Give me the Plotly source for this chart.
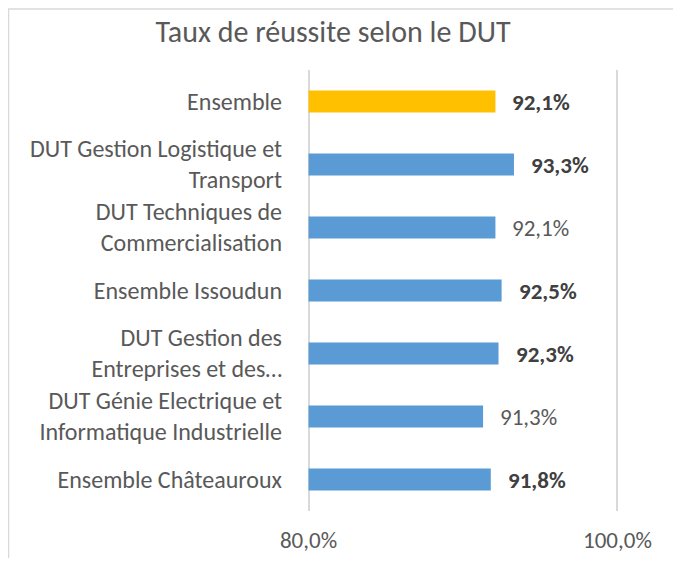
import plotly.graph_objects as go

categories = [
    "Ensemble",
    "DUT Gestion Logistique et<br>Transport",
    "DUT Techniques de<br>Commercialisation",
    "Ensemble Issoudun",
    "DUT Gestion des<br>Entreprises et des…",
    "DUT Génie Electrique et<br>Informatique Industrielle",
    "Ensemble Châteauroux",
]
values = [92.1, 93.3, 92.1, 92.5, 92.3, 91.3, 91.8]
value_labels = ["92,1%", "93,3%", "92,1%", "92,5%", "92,3%", "91,3%", "91,8%"]
label_bold = [True, True, False, True, True, False, True]
bar_colors = ["#FFC000", "#5B9BD5", "#5B9BD5", "#5B9BD5", "#5B9BD5", "#5B9BD5", "#5B9BD5"]
x_tickvals = [80, 100]
x_ticktext = ["80,0%", "100,0%"]
axis_min = x_tickvals[0]

FONT = "Calibri, Carlito, Lato, sans-serif"
GREY = "#595959"

fig = go.Figure(go.Bar(
    y=categories, x=[v - axis_min for v in values], base=axis_min, orientation="h",
    marker=dict(color=bar_colors, line=dict(width=0)),
    width=0.35, hoverinfo="skip",
))

for cat, v, lab, b in zip(categories, values, value_labels, label_bold):
    fig.add_annotation(
        x=v, y=cat, xref="x", yref="y",
        text=f"<b>{lab}</b>" if b else lab,
        showarrow=False, xanchor="left", yanchor="middle", xshift=15,
        font=dict(family=FONT, size=23, color="#404040" if b else GREY),
    )

# page has an 8px body margin; keep the figure inside the window (no scrollbars)
W, H = 665, 550
L, R, T, B = 299, 54, 62, 47
pw, ph = W - L - R, H - T - B

def px(x):
    return (x - L) / pw

def py(y):
    return (H - B - y) / ph

# chart-area frame: only its left and top edges fall inside the window
x0, x1, y0, y1 = px(0.5), px(W + 50), py(H + 50), py(1)
fig.add_shape(type="path", xref="paper", yref="paper",
              path=f"M {x0},{y0} L {x0},{y1} L {x1},{y1}",
              line=dict(color="#D9D9D9", width=1.5), layer="below")

fig.update_layout(
    width=W, height=H,
    margin=dict(l=L, r=R, t=T, b=B, autoexpand=False),
    paper_bgcolor="white", plot_bgcolor="white",
    showlegend=False,
    font=dict(family=FONT, color=GREY),
    title=dict(text="Taux de réussite selon le DUT", x=325 / W, xanchor="center",
               y=1 - 23 / H, yanchor="middle", automargin=False,
               font=dict(family=FONT, size=30, color=GREY)),
    xaxis=dict(range=[79.9, 100.1], tickvals=x_tickvals, ticktext=x_ticktext,
               showgrid=True, gridcolor="#D9D9D9", gridwidth=1.5,
               zeroline=False, showline=False, ticks="", automargin=False,
               tickfont=dict(family=FONT, size=23, color=GREY),
               ticklabelstandoff=13, fixedrange=True),
    yaxis=dict(categoryorder="array", categoryarray=categories[::-1],
               showgrid=False, zeroline=False, showline=False, ticks="", automargin=False,
               tickfont=dict(family=FONT, size=24, color=GREY),
               ticklabelstandoff=24, fixedrange=True),
)

fig.write_html("out.html")
